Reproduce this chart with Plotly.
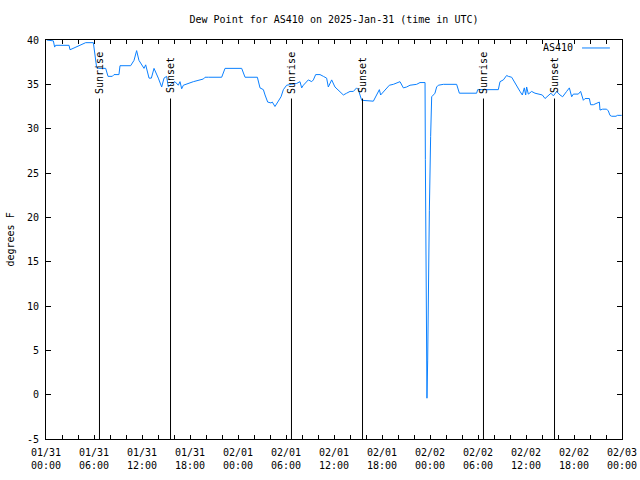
import plotly.graph_objects as go
import pandas as pd

BASE = pd.Timestamp("2025-01-31 00:00")

# hours after 2025-01-31 00:00 UTC
hours = [0.1, 0.92, 1.08, 1.2, 2.88, 3.0, 3.5, 4.25, 4.96, 5.92,
         6.2, 6.33, 6.62, 7.46, 7.75, 8.29, 8.5, 9.12, 9.25, 10.58,
         11.0, 11.33, 11.62, 12.04, 12.25, 12.46, 12.88, 13.17, 13.5,
         14.04, 14.46, 14.75, 15.08, 15.29, 15.71, 16.12, 16.54, 16.75, 16.96,
         17.17, 17.79, 18.42, 19.67, 19.88, 20.29, 21.96, 22.38, 24.46, 24.88,
         26.42, 26.75,
         27.17, 27.38, 27.71, 28.12, 28.29, 28.62, 28.96, 29.38, 29.67, 30.08,
         30.71, 31.33, 31.75, 31.96, 32.17, 32.58, 32.79, 33.21, 33.42, 33.71,
         34.25, 34.67, 35.08, 35.29, 35.71, 36.12, 36.75, 37.17, 37.58, 38.0,
         38.42, 38.83, 39.04, 39.46,
         40.92, 41.33, 41.67, 41.83, 42.25, 42.58, 42.92, 43.42, 44.25, 44.67,
         45.08, 45.5, 46.33, 46.75, 47.38, 47.42, 47.5, 47.62, 47.71, 47.79,
         47.92, 48.08, 48.21, 48.42, 48.62, 48.83, 49.04, 49.67, 51.33, 51.67,
         53.83, 53.96, 56.54, 56.75, 57.17, 57.58, 57.79, 58.21, 58.54, 58.83,
         59.25, 59.54, 59.79, 59.96, 60.08, 60.29, 60.71, 61.12, 61.75, 62.04,
         62.38, 62.79, 63.12, 63.42, 63.83, 64.25,
         64.58, 65.08, 65.42, 65.71, 65.92, 66.54, 66.83, 67.17, 67.38, 67.92,
         68.08, 68.42, 68.83, 69.17, 69.25, 69.58, 70.08, 70.29, 70.5, 70.71,
         71.25, 71.42, 71.96]

dewpoint = [40.0, 39.9, 39.2, 39.4, 39.4, 38.9, 39.1, 39.4, 39.7, 39.7,
            37.9, 36.9, 36.8, 36.8, 35.9, 35.9, 36.1, 36.1, 37.1, 37.1,
            37.7, 38.8, 37.7, 37.0, 36.8, 37.2, 35.7, 35.7, 36.8,
            35.7, 34.7, 35.7, 35.9, 34.7, 35.1, 35.3, 34.9, 35.3, 34.5,
            34.9, 35.1, 35.3, 35.6, 35.8, 35.8, 35.8, 36.8, 36.8, 35.8,
            35.8, 34.6,
            34.4, 33.8, 33.0, 32.9, 33.0, 32.5, 33.0, 33.6, 34.4, 34.9,
            35.0, 35.1, 35.3, 34.6, 34.9, 35.3, 35.5, 35.3, 35.5, 36.1,
            36.1, 35.9, 35.7, 34.7, 35.5, 34.7, 34.2, 33.8, 34.0, 34.2,
            34.2, 34.6, 34.4, 33.2,
            33.1, 33.8, 34.4, 33.8, 34.2, 34.6, 34.9, 35.0, 35.3, 34.6,
            34.7, 34.9, 35.0, 35.2, 35.2, 26.5, 8.6, -0.4, 3.9, 12.2,
            20.8, 29.1, 33.6, 33.8, 34.0, 34.7, 34.9, 35.0, 35.0, 34.0,
            34.0, 34.4, 34.4, 35.3, 35.5, 36.0, 35.9, 35.8, 35.3, 34.7,
            34.2, 33.8, 34.6, 33.8, 34.7, 33.9, 34.2, 34.0, 33.9, 33.8,
            33.4, 33.8, 34.0, 33.7, 34.2, 33.8,
            33.6, 34.2, 34.6, 33.6, 33.9, 33.9, 34.2, 33.2, 33.4, 33.4,
            32.7, 32.7, 32.9, 33.0, 32.1, 32.2, 32.2, 32.0, 31.5, 31.4,
            31.4, 31.5, 31.5]

series_name = "AS410"
sunrise_times = ["2025-01-31 06:41", "2025-02-01 06:41", "2025-02-02 06:41"]
sunset_times = ["2025-01-31 15:34", "2025-02-01 15:34", "2025-02-02 15:34"]
sun_line_top = 33.4

y_ticks = [-5, 0, 5, 10, 15, 20, 25, 30, 35, 40]
y_tick_labels = ["-5", "0", "5", "10", "15", "20", "25", "30", "35", "40"]
x_tick_hours = [0, 6, 12, 18, 24, 30, 36, 42, 48, 54, 60, 66, 72]
x_tick_labels = ["01/31<br>00:00", "01/31<br>06:00", "01/31<br>12:00", "01/31<br>18:00",
                 "02/01<br>00:00", "02/01<br>06:00", "02/01<br>12:00", "02/01<br>18:00",
                 "02/02<br>00:00", "02/02<br>06:00", "02/02<br>12:00", "02/02<br>18:00",
                 "02/03<br>00:00"]
minor_tick_hours = list(range(0, 73, 2))

FONT = "DejaVu Sans Mono"
LINE_COLOR = "#0a80ff"


def t(h):
    return BASE + pd.Timedelta(hours=h)


times = [t(h) for h in hours]

fig = go.Figure()
fig.add_trace(go.Scatter(x=times, y=dewpoint, mode="lines", name=series_name,
                         line=dict(color=LINE_COLOR, width=1), showlegend=False))

shapes = []
annotations = []
for tlist, label in ((sunrise_times, "Sunrise"), (sunset_times, "Sunset")):
    for ts in tlist:
        x = pd.Timestamp(ts)
        shapes.append(dict(type="line", xref="x", yref="y", x0=x, x1=x,
                           y0=-5, y1=sun_line_top, line=dict(color="black", width=1)))
        annotations.append(dict(x=x, y=sun_line_top, xref="x", yref="y", text=label,
                                textangle=-90, showarrow=False, xanchor="center",
                                yanchor="bottom", yshift=3,
                                font=dict(family=FONT, size=10, color="black")))

# legend (text then line sample, gnuplot style)
annotations.append(dict(x=0.918, y=0.98, xref="paper", yref="paper", text=series_name,
                        showarrow=False, xanchor="right", yanchor="middle",
                        font=dict(family=FONT, size=10, color="black")))
shapes.append(dict(type="line", xref="paper", yref="paper", x0=0.9306, x1=0.979,
                   y0=0.98, y1=0.98, line=dict(color=LINE_COLOR, width=1)))

# y axis title
annotations.append(dict(x=-0.0625, y=0.5, xref="paper", yref="paper", text="degrees F",
                        textangle=-90, showarrow=False, xanchor="center", yanchor="middle",
                        font=dict(family=FONT, size=10, color="black")))

fig.update_layout(
    width=640, height=480,
    margin=dict(l=46, r=18, t=40, b=41, pad=0, autoexpand=False),
    paper_bgcolor="white", plot_bgcolor="white",
    font=dict(family=FONT, size=10, color="black"),
    title=dict(text="Dew Point for AS410 on 2025-Jan-31 (time in UTC)",
               x=0.5, xref="paper", y=1 - 19 / 480, yanchor="middle",
               font=dict(family=FONT, size=10, color="black")),
    shapes=shapes, annotations=annotations,
    showlegend=False,
)
fig.update_xaxes(
    automargin=False,
    range=[t(0), t(72)], tickvals=[t(h) for h in x_tick_hours], ticktext=x_tick_labels,
    ticks="inside", ticklen=4, tickcolor="black", tickwidth=1,
    showline=True, linecolor="black", linewidth=1, mirror="allticks",
    showgrid=False, zeroline=False, tickfont=dict(family=FONT, size=10),
    ticklabelstandoff=4, ticklabeloverflow="allow",
    minor=dict(tickvals=[t(h) for h in minor_tick_hours], ticks="inside", ticklen=4,
               tickcolor="black", showgrid=False),
)
fig.update_yaxes(
    automargin=False,
    range=[-5, 40], tickvals=y_ticks, ticktext=y_tick_labels,
    ticks="inside", ticklen=5, tickcolor="black", tickwidth=1,
    showline=True, linecolor="black", linewidth=1, mirror="allticks",
    showgrid=False, zeroline=False, tickfont=dict(family=FONT, size=10),
    ticklabelstandoff=4,
)

fig.write_html(
    "out.html",
    config={"displayModeBar": False},
    post_script="document.body.style.margin='0';document.body.style.overflow='hidden';",
)
